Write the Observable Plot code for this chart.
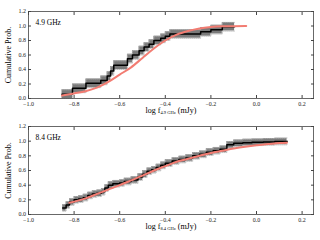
<!DOCTYPE html>
<html><head><meta charset="utf-8">
<script src="https://cdn.jsdelivr.net/npm/d3@7"></script>
<script src="https://cdn.jsdelivr.net/npm/@observablehq/plot@0.6"></script>
<style>
html,body{margin:0;padding:0;background:#fff;}
#c{width:320px;height:240px;overflow:hidden;}
svg{display:block;}
</style></head><body><div id="c"></div>
<script>
const xTicks = [-1.0, -0.8, -0.6, -0.4, -0.2, 0.0, 0.2];
const yTicks = [0.0, 0.2, 0.4, 0.6, 0.8, 1.0, 1.2];

// 4.9 GHz panel
const topLabel = "4.9 GHz";
const topAxisLabel = "log f_{4.9 GHz} (mJy)";
const topStepX = [-0.853, -0.807, -0.748, -0.683, -0.655, -0.640, -0.626, -0.566, -0.544, -0.515, -0.493, -0.471, -0.450, -0.420, -0.400, -0.380, -0.245, -0.200, -0.150, -0.096];
const topStepY = [0.06, 0.14, 0.21, 0.25, 0.31, 0.38, 0.46, 0.55, 0.60, 0.66, 0.71, 0.75, 0.80, 0.83, 0.86, 0.89, 0.92, 0.95, 0.99, 0.99];
const topBand = 0.06;
const topFitX = [-0.853, -0.80, -0.75, -0.70, -0.65, -0.60, -0.55, -0.50, -0.45, -0.40, -0.35, -0.30, -0.25, -0.20, -0.15, -0.10, -0.045];
const topFitY = [0.04, 0.07, 0.10, 0.15, 0.23, 0.33, 0.43, 0.56, 0.69, 0.80, 0.88, 0.93, 0.965, 0.985, 0.995, 0.998, 1.0];

// 8.4 GHz panel
const botLabel = "8.4 GHz";
const botAxisLabel = "log f_{8.4 GHz} (mJy)";
const botStepX = [-0.85, -0.835, -0.82, -0.80, -0.78, -0.76, -0.74, -0.72, -0.70, -0.68, -0.665, -0.65, -0.63, -0.60, -0.58, -0.55, -0.52, -0.50, -0.48, -0.46, -0.44, -0.42, -0.40, -0.37, -0.34, -0.31, -0.28, -0.25, -0.22, -0.19, -0.16, -0.13, -0.10, -0.06, -0.02, 0.03, 0.08, 0.134];
const botStepY = [0.09, 0.13, 0.17, 0.20, 0.21, 0.23, 0.26, 0.28, 0.29, 0.31, 0.36, 0.40, 0.42, 0.43, 0.45, 0.47, 0.51, 0.55, 0.59, 0.61, 0.64, 0.67, 0.70, 0.73, 0.75, 0.77, 0.80, 0.82, 0.85, 0.87, 0.89, 0.95, 0.97, 0.98, 0.985, 0.99, 0.995, 1.0];
const botBand = 0.045;
const botFitX = [-0.821, -0.75, -0.70, -0.65, -0.60, -0.55, -0.50, -0.45, -0.40, -0.35, -0.30, -0.25, -0.20, -0.15, -0.10, -0.05, 0.0, 0.05, 0.10, 0.134];
const botFitY = [0.16, 0.22, 0.28, 0.34, 0.40, 0.465, 0.53, 0.60, 0.66, 0.72, 0.76, 0.80, 0.84, 0.87, 0.90, 0.925, 0.945, 0.96, 0.975, 0.98];

const FONT = "Liberation Serif";
const fmt = d3.format(".1f");

function panel({label, axisLabel, stepX, stepY, band, fitX, fitY, marginTop, marginBottom}) {
  const steps = stepX.map((x, i) => ({x, y: stepY[i]}));
  const fit = fitX.map((x, i) => ({x, y: fitY[i]}));
  const svg = Plot.plot({
    width: 320, height: 120,
    marginTop, marginBottom, marginLeft: 28, marginRight: 7,
    x: {domain: [-1.0, 0.25]},
    y: {domain: [0, 1.2]},
    style: {fontFamily: FONT, fontSize: "6px", background: "#fff", color: "#222"},
    marks: [
      Plot.areaY(steps, {x: "x", y1: d => d.y - band, y2: d => d.y + band, curve: "step-after", fill: "#7a7a7a"}),
      Plot.lineY(steps, {x: "x", y: d => d.y + band, curve: "step-after", stroke: "#b0b0b0", strokeWidth: 0.8, strokeDasharray: "1,1"}),
      Plot.lineY(steps, {x: "x", y: d => d.y - band, curve: "step-after", stroke: "#b0b0b0", strokeWidth: 0.8, strokeDasharray: "1,1"}),
      Plot.line(steps, {x: "x", y: "y", curve: "step-after", stroke: "#000", strokeWidth: 1.5}),
      Plot.line(fit, {x: "x", y: "y", curve: "monotone-x", stroke: "#f27c72", strokeWidth: 2}),
      Plot.frame({stroke: "#444", strokeWidth: 0.8}),
      Plot.axisX(xTicks, {anchor: "bottom", tickSize: -3, tickPadding: 6, tickFormat: fmt, label: null, stroke: "#444"}),
      Plot.axisX(xTicks, {anchor: "top", tickSize: -3, tickFormat: () => "", label: null, stroke: "#444"}),
      Plot.axisY(yTicks, {anchor: "left", tickSize: -3, tickPadding: 5.5, tickFormat: fmt, label: null, stroke: "#444"}),
      Plot.axisY(yTicks, {anchor: "right", tickSize: -3, tickFormat: () => "", label: null, stroke: "#444"}),
      Plot.text([label], {frameAnchor: "top-left", dx: 7, dy: 8, fontSize: 7.5, fill: "#000"}),
      Plot.text(["Cumulative Prob."], {frameAnchor: "left", textAnchor: "middle", dx: -20, rotate: -90, fontSize: 8, fill: "#000"}),
      Plot.text([axisLabel], {frameAnchor: "bottom", dy: 14, fontSize: 8, fill: "#000"})
    ]
  });
  // render subscript in axis label
  svg.querySelectorAll("text").forEach(t => {
    const s = t.textContent;
    const m = s.match(/^(.*)_\{(.*)\}(.*)$/);
    if (m) {
      while (t.firstChild) t.removeChild(t.firstChild);
      const ns = "http://www.w3.org/2000/svg";
      const a = document.createElementNS(ns, "tspan"); a.textContent = m[1];
      const b = document.createElementNS(ns, "tspan"); b.textContent = m[2];
      b.setAttribute("font-size", "4.5"); b.setAttribute("dy", "1.5");
      const c = document.createElementNS(ns, "tspan"); c.textContent = m[3];
      c.setAttribute("dy", "-1.5");
      t.append(a, b, c);
    }
  });
  return svg;
}

const c = document.getElementById("c");
c.append(panel({label: topLabel, axisLabel: topAxisLabel, stepX: topStepX, stepY: topStepY, band: topBand, fitX: topFitX, fitY: topFitY, marginTop: 11, marginBottom: 22}));
c.append(panel({label: botLabel, axisLabel: botAxisLabel, stepX: botStepX, stepY: botStepY, band: botBand, fitX: botFitX, fitY: botFitY, marginTop: 6, marginBottom: 26}));
</script></body></html>
